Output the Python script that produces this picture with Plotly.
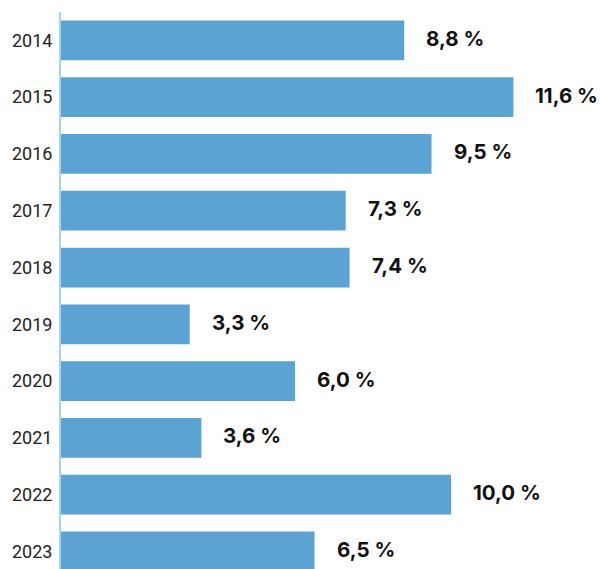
import plotly.graph_objects as go

years = ["2014", "2015", "2016", "2017", "2018", "2019", "2020", "2021", "2022", "2023"]
values = [8.8, 11.6, 9.5, 7.3, 7.4, 3.3, 6.0, 3.6, 10.0, 6.5]
labels = ["8,8 %", "11,6 %", "9,5 %", "7,3 %", "7,4 %", "3,3 %", "6,0 %", "3,6 %", "10,0 %", "6,5 %"]

fig = go.Figure()
fig.add_trace(go.Bar(
    y=years, x=values, orientation="h",
    marker=dict(color="#5ba3d3", line=dict(width=0)),
    width=0.7, hoverinfo="skip",
))
for i, (v, t) in enumerate(zip(values, labels)):
    fig.add_annotation(x=v, y=i, xref="x", yref="y", text="<b>" + t + "</b>", showarrow=False,
                       xanchor="left", yanchor="middle", xshift=20, yshift=2,
                       font=dict(family="Inter", size=20.5, color="#111111"))

fig.update_layout(
    width=599, height=561,
    margin=dict(l=53, r=0, t=4, b=0, autoexpand=False),
    plot_bgcolor="white", paper_bgcolor="white",
    showlegend=False,
    xaxis=dict(range=[0, 14], showgrid=False, zeroline=False, showticklabels=False,
               showline=False, automargin=False),
    yaxis=dict(type="category", range=[9.31, -0.5], autorange=False, showgrid=False, automargin=False,
               showline=True, linecolor="#a3d5f2", linewidth=2, ticks="", ticklabelstandoff=3,
               tickfont=dict(family="Roboto", size=18, color="#222222")),
)
fig.write_html("out.html")
